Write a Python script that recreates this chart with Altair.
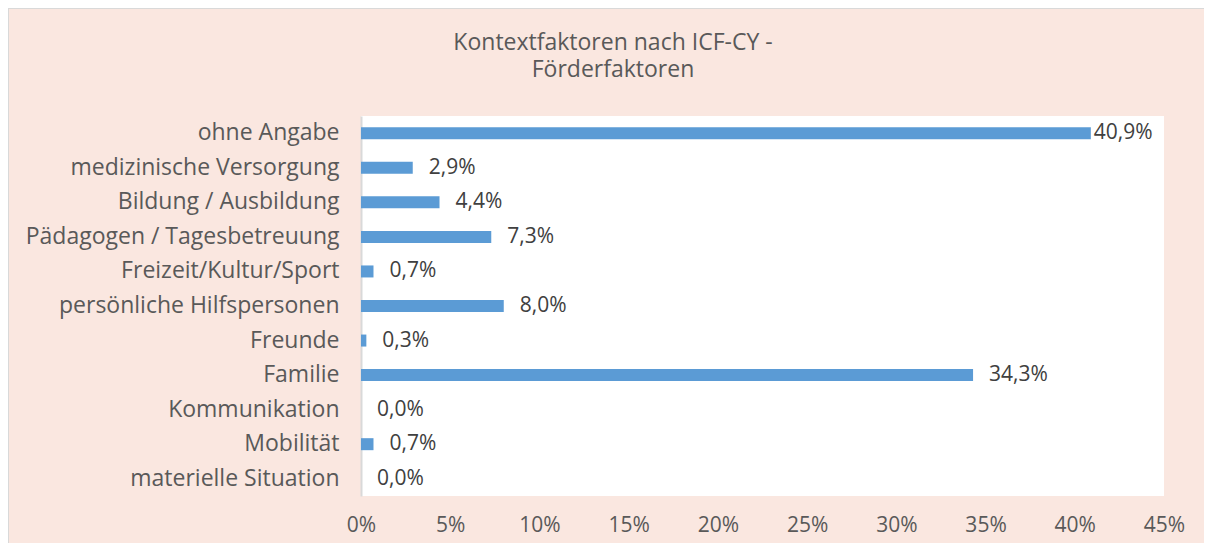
import altair as alt
import pandas as pd

categories = [
    "ohne Angabe",
    "medizinische Versorgung",
    "Bildung / Ausbildung",
    "Pädagogen / Tagesbetreuung",
    "Freizeit/Kultur/Sport",
    "persönliche Hilfspersonen",
    "Freunde",
    "Familie",
    "Kommunikation",
    "Mobilität",
    "materielle Situation",
]
values = [0.409, 0.029, 0.044, 0.073, 0.007, 0.080, 0.003, 0.343, 0.000, 0.007, 0.000]
tick_values = [0, 0.05, 0.10, 0.15, 0.20, 0.25, 0.30, 0.35, 0.40, 0.45]
title_lines = ["Kontextfaktoren nach ICF-CY -", "Förderfaktoren"]

df = pd.DataFrame({"cat": categories, "value": values})

FONT = "Open Sans"
BG = "#FAE7E0"

y_enc = alt.Y("cat:N", sort=categories, title=None,
              scale=alt.Scale(paddingInner=0.65, paddingOuter=0.325),
              axis=alt.Axis(labelFont=FONT, labelFontSize=23, labelColor="#595959",
                            labelPadding=22, ticks=False, domain=True,
                            domainColor="#D9D9D9", domainWidth=2, labelLimit=400))
x_enc = alt.X("value:Q", title=None,
              scale=alt.Scale(domain=[0, 0.45], nice=False),
              axis=alt.Axis(values=tick_values, format=".0%", labelFont=FONT,
                            labelFontSize=21, labelColor="#595959", labelPadding=18,
                            labelFlush=False, ticks=False, domain=False, grid=False))

base = alt.Chart(df)

bars = base.mark_bar(color="#5B9BD5", size=12).encode(y=y_enc, x=x_enc)

lab_expr = "replace(format(datum.value*100, '.1f'), '.', ',') + '%'"
labels_small = base.transform_filter("datum.value < 0.4").transform_calculate(
    lab=lab_expr
).mark_text(align="left", baseline="middle", dx=16, font=FONT, fontSize=21,
            color="#404040").encode(y=alt.Y("cat:N", sort=categories), x="value:Q", text="lab:N")
labels_big = base.transform_filter("datum.value >= 0.4").transform_calculate(
    lab=lab_expr
).mark_text(align="left", baseline="middle", dx=3, font=FONT, fontSize=21,
            color="#404040").encode(y=alt.Y("cat:N", sort=categories), x="value:Q", text="lab:N")

border = alt.Chart(pd.DataFrame({"a": [0]})).mark_rect(
    fill=None, stroke="#D9D9D9", strokeWidth=2
).encode(x=alt.value(-353), x2=alt.value(900), y=alt.value(-108), y2=alt.value(500))

title = alt.Chart(pd.DataFrame({"a": [0]})).mark_text(
    text=title_lines, font=FONT, fontSize=23, color="#595959", align="center",
    baseline="alphabetic", lineHeight=27
).encode(x=alt.value(252), y=alt.value(-66))

chart = alt.layer(border, title, bars, labels_small, labels_big).properties(
    width=803,
    height=380,
    background=BG,
    padding={"left": 353, "top": 108, "right": 40, "bottom": 47},
    autosize=alt.AutoSizeParams(type="none"),
).configure_view(fill="white", stroke=None)

chart.save("out.html", embed_options={"renderer": "svg", "actions": False})
